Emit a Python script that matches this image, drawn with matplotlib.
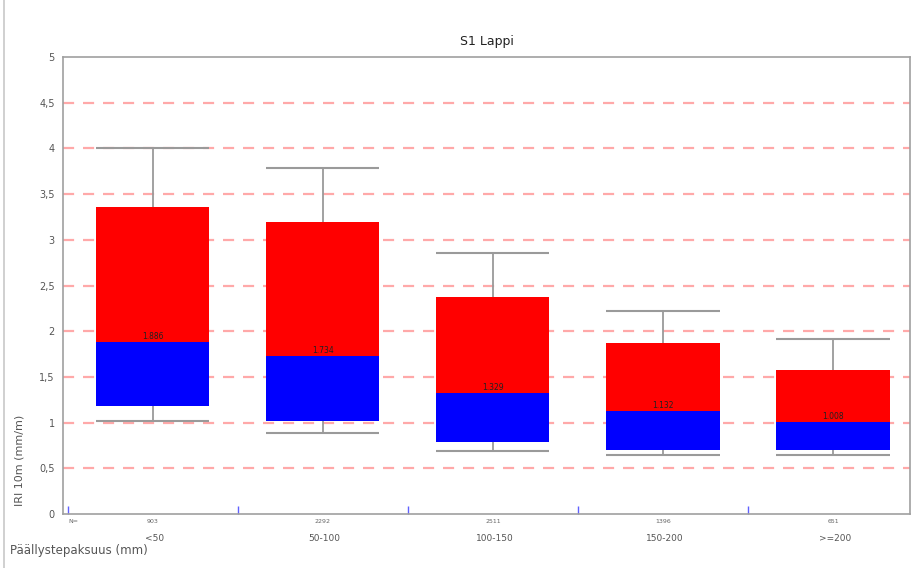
import matplotlib
matplotlib.use("Agg")
import matplotlib.pyplot as plt
from matplotlib.lines import Line2D

# thickness classes and sample counts
classes = ["<50", "50-100", "100-150", "150-200", ">=200"]
counts = [903, 2292, 2511, 1396, 651]

# box statistics per class (IRI 10m, mm/m)
whisker_low = [1.02, 0.89, 0.69, 0.64, 0.65]
q1 = [1.18, 1.02, 0.79, 0.70, 0.70]
median = [1.886, 1.734, 1.329, 1.132, 1.008]
q3 = [3.36, 3.19, 2.37, 1.87, 1.58]
whisker_high = [4.0, 3.79, 2.86, 2.22, 1.92]

fig = plt.figure(figsize=(9.12, 5.68), dpi=100)
ax = fig.add_axes([0.0691, 0.0951, 0.9287, 0.8045])

x = list(range(len(classes)))
width = 0.665
grey = "#9a9a9a"

# reference lines every 0.5
for yv in [0.5, 1, 1.5, 2, 2.5, 3, 3.5, 4, 4.5]:
    ax.axhline(yv, color="#ff7070", lw=1.6, ls=(0, (5, 4)), alpha=0.6, zorder=1)

# whiskers and caps
ax.vlines(x, q3, whisker_high, color=grey, lw=1.3, zorder=2)
ax.vlines(x, whisker_low, q1, color=grey, lw=1.3, zorder=2)
ax.hlines(whisker_high, [i - width / 2 for i in x], [i + width / 2 for i in x],
          color=grey, lw=1.5, zorder=2)
ax.hlines(whisker_low, [i - width / 2 for i in x], [i + width / 2 for i in x],
          color=grey, lw=1.5, zorder=2)

# lower half blue, upper half red
ax.bar(x, [m - a for m, a in zip(median, q1)], bottom=q1, width=width,
       color="#0000ff", zorder=3)
ax.bar(x, [b - m for b, m in zip(q3, median)], bottom=median, width=width,
       color="#ff0000", zorder=3)

for i, m in enumerate(median):
    ax.text(i, m + 0.01, f"{m:.3f}", ha="center", va="bottom", fontsize=5.5,
            color="#222222", zorder=4)

ax.set_xlim(-0.529, 4.453)
ax.set_ylim(0, 5)
ax.set_yticks([0, 0.5, 1, 1.5, 2, 2.5, 3, 3.5, 4, 4.5, 5])
ax.set_yticklabels(["0", "0,5", "1", "1,5", "2", "2,5", "3", "3,5", "4", "4,5", "5"],
                   fontsize=7, color="#555555")
ax.tick_params(axis="y", length=0, pad=6)

# class boundaries marked with short blue ticks
ax.set_xticks([-0.5, 0.5, 1.5, 2.5, 3.5])
ax.set_xticklabels([])
ax.tick_params(axis="x", direction="in", length=6, width=1, color="#6060ff")

for s in ax.spines.values():
    s.set_color("#a0a0a0")
    s.set_linewidth(1.2)

# counts and class names under the axis
ax.text(-0.5, -0.08, "N=", transform=ax.transData, ha="left", va="center",
        fontsize=4.5, color="#666666")
for i, (c, n) in enumerate(zip(classes, counts)):
    ax.text(i, -0.08, str(n), ha="center", va="center", fontsize=4.5,
            color="#666666", clip_on=False)
    ax.text(i + 0.01, -0.27, c, ha="center", va="center", fontsize=6.5,
            color="#555555", clip_on=False)

ax.set_title("S1 Lappi", fontsize=9, color="#222222", pad=9)
fig.text(0.021, 0.19, "IRI 10m (mm/m)", rotation=90, ha="center", va="center",
         fontsize=8, color="#555555")
fig.text(0.011, 0.031, "Päällystepaksuus (mm)", ha="left", va="center",
         fontsize=8.5, color="#555555")

# outer frame edge on the left
fig.add_artist(Line2D([0.004, 0.004], [0.0, 1.0], transform=fig.transFigure,
                      color="#c8c8c8", lw=1.2))

fig.savefig("out.png", dpi=100)
